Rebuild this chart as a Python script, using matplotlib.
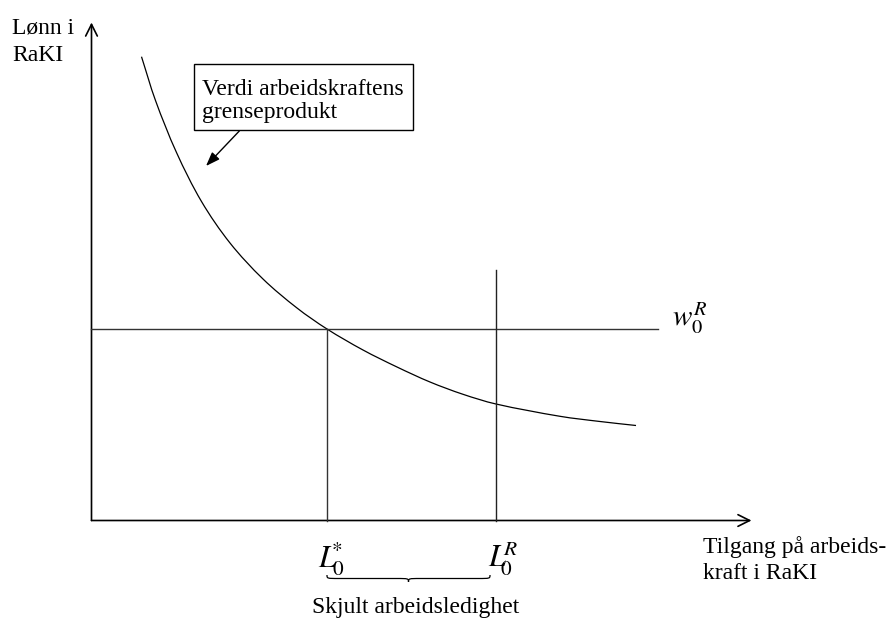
import matplotlib
matplotlib.use("Agg")
import numpy as np
import matplotlib.pyplot as plt
from matplotlib.patches import Rectangle, PathPatch, FancyArrowPatch
from matplotlib.path import Path

plt.rcParams["font.family"] = ["Liberation Serif", "DejaVu Serif"]
plt.rcParams["mathtext.fontset"] = "stix"

# Marginal value product of labour (wage vs. labour supply)
curve_x = [50, 64, 85, 110, 138.5, 171.5, 205.5, 235.5, 271.5, 305.5, 338.5,
           371.5, 404.5, 468.5, 508.5, 544.5]
curve_y = [463.8, 420, 368, 319, 277.5, 241.5, 212.5, 191.5, 170.5, 153.5, 138.5,
           126.2, 116.5, 104.2, 99, 95]

# Reservation wage and labour quantities
w_R = 191.5
L_star = 235.5
L_R = 404.5
w_line_end = 566.5
L_R_top = 250.5

x_axis_end = 660
y_axis_end = 498

TXT = 17

fig = plt.figure(figsize=(8.86, 6.21), dpi=100)
ax = fig.add_axes([0, 0, 1, 1])
ax.set_xlim(-91.5, 794.5)
ax.set_ylim(-100.5, 520.5)
ax.axis("off")

# axes with open arrowheads
for tip in [(x_axis_end, 0), (0, y_axis_end)]:
    ax.add_patch(FancyArrowPatch((0, 0), tip, arrowstyle="->,head_length=0.7,head_width=0.35",
                                 mutation_scale=12, lw=1.2, color="black", shrinkA=0, shrinkB=0))


def smooth_path(xs, ys):
    """Chord-length Catmull-Rom spline through the points, as cubic Bezier segments."""
    p = np.column_stack([xs, ys]).astype(float)
    t = np.concatenate([[0], np.cumsum(np.hypot(*np.diff(p, axis=0).T))])
    m = np.zeros_like(p)
    m[0] = (p[1] - p[0]) / (t[1] - t[0])
    m[-1] = (p[-1] - p[-2]) / (t[-1] - t[-2])
    for i in range(1, len(p) - 1):
        m[i] = (p[i + 1] - p[i - 1]) / (t[i + 1] - t[i - 1])
    verts = [tuple(p[0])]
    codes = [Path.MOVETO]
    for i in range(len(p) - 1):
        h = t[i + 1] - t[i]
        verts += [tuple(p[i] + m[i] * h / 3), tuple(p[i + 1] - m[i + 1] * h / 3),
                  tuple(p[i + 1])]
        codes += [Path.CURVE4] * 3
    return Path(verts, codes)


# marginal product curve
ax.add_patch(PathPatch(smooth_path(curve_x, curve_y), fill=False, ec="black", lw=0.9))

# reservation wage line and labour quantity lines
ax.plot([0, w_line_end], [w_R, w_R], color="#333333", lw=1.0)
ax.plot([L_star, L_star], [0, w_R], color="#333333", lw=1.0)
ax.plot([L_R, L_R], [0, L_R_top], color="#222222", lw=1.0)

# y-axis label
ax.text(-79, 487.5, "Lønn i", fontsize=TXT, ha="left", va="baseline")
ax.text(-79, 459.8, "RaKI", fontsize=TXT, ha="left", va="baseline")

# x-axis label
ax.text(611.8, -32.8, "Tilgang på arbeids-", fontsize=TXT, ha="left", va="baseline")
ax.text(611.8, -58.8, "kraft i RaKI", fontsize=TXT, ha="left", va="baseline")

# boxed curve label with pointer
ax.add_patch(Rectangle((102.5, 390.5), 218.7, 66, fill=False, ec="black", lw=1.0))
ax.text(110.2, 425.5, "Verdi arbeidskraftens", fontsize=TXT, ha="left", va="baseline")
ax.text(110.2, 402.2, "grenseprodukt", fontsize=TXT, ha="left", va="baseline")
ax.annotate("", xy=(114.5, 354.5), xytext=(147.8, 389.5),
            arrowprops=dict(arrowstyle="-|>,head_length=0.6,head_width=0.22", lw=1.0,
                            color="black", mutation_scale=14, shrinkA=0, shrinkB=0))

# math labels
ax.text(580.2, 193.8, r"$w_0^R$", fontsize=21, ha="left", va="baseline")
ax.text(226.5, -47.5, r"$L_{\!0}^{\!\!\!\!*}$", fontsize=22, ha="left", va="baseline")
ax.text(396.5, -47.5, r"$L_{\!\!0}^{\!\!R}$", fontsize=22, ha="left", va="baseline")


# curly brace between L0* and L0R
def brace(x0, x1, y0, d, r=12):
    xm = (x0 + x1) / 2
    ym = y0 - d * 0.5
    yt = y0 - d
    verts = [(x0, y0), (x0, ym), (x0, ym), (x0 + r, ym),
             (xm - r, ym), (xm, ym), (xm, ym), (xm, yt),
             (xm, ym), (xm, ym), (xm + r, ym),
             (x1 - r, ym), (x1, ym), (x1, ym), (x1, y0)]
    codes = [Path.MOVETO, Path.CURVE4, Path.CURVE4, Path.CURVE4,
             Path.LINETO, Path.CURVE4, Path.CURVE4, Path.CURVE4,
             Path.CURVE4, Path.CURVE4, Path.CURVE4,
             Path.LINETO, Path.CURVE4, Path.CURVE4, Path.CURVE4]
    ax.add_patch(PathPatch(Path(verts, codes), fill=False, ec="black", lw=0.9))


brace(L_star, L_R - 6, -54.5, 7)
ax.text(324.5, -92.5, "Skjult arbeidsledighet", fontsize=TXT, ha="center", va="baseline")

fig.savefig("out.png", dpi=100)
